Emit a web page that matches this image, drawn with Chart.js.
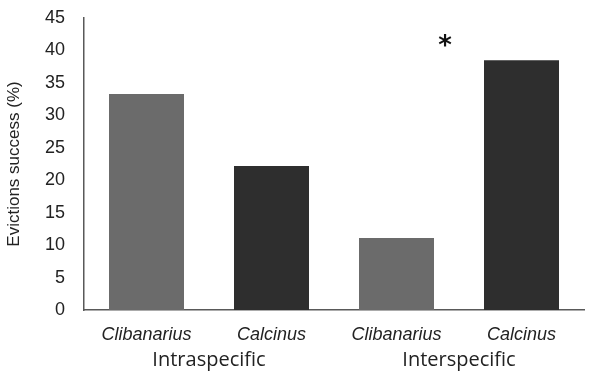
<!DOCTYPE html>
<html>
<head>
<meta charset="utf-8">
<script src="https://cdn.jsdelivr.net/npm/chart.js@4.4.0/dist/chart.umd.min.js"></script>
<style>
  html, body { margin: 0; padding: 0; background: #fff; }
  #wrap { width: 598px; height: 374px; }
</style>
</head>
<body>
<div id="wrap"><canvas id="myChart" width="598" height="374"></canvas></div>
<script>
// data block
const species = ['Clibanarius', 'Calcinus', 'Clibanarius', 'Calcinus'];
const groups = ['Intraspecific', 'Interspecific'];
const success = [33.3, 22.2, 11.1, 38.5];
const yTicks = [0, 5, 10, 15, 20, 25, 30, 35, 40, 45];

const barColors = ['#6b6b6b', '#2e2e2e', '#6b6b6b', '#2e2e2e'];

// asterisk over the interspecific pair
const starMark = {
  id: 'starMark',
  afterDraw(chart) {
    const {ctx, scales: {x, y}} = chart;
    ctx.save();
    const px = (x.getPixelForValue(2) + x.getPixelForValue(3)) / 2 - 14;
    ctx.font = 'bold 26px "DejaVu Sans"';
    ctx.fillStyle = '#111';
    ctx.textAlign = 'center';
    ctx.textBaseline = 'middle';
    ctx.fillText('*', px, y.getPixelForValue(40.5));
    ctx.restore();
  }
};

const config = {
  type: 'bar',
  data: {
    labels: species,
    datasets: [{
      data: success,
      backgroundColor: barColors,
      borderWidth: 0,
      barPercentage: 0.6,
      categoryPercentage: 1.0
    }]
  },
  options: {
    responsive: false,
    animation: false,
    layout: { padding: { top: 18, right: 14, left: 0, bottom: 0 } },
    plugins: {
      legend: { display: false },
      tooltip: { enabled: false }
    },
    scales: {
      x: {
        position: 'bottom',
        grid: { display: false, drawTicks: false },
        border: { display: true, color: '#595959', width: 1.5 },
        ticks: {
          color: '#222',
          font: { family: '"Liberation Sans", Arial', size: 18, style: 'italic' },
          padding: 14,
          maxRotation: 0
        },
        afterFit(scale) { scale.height = 36; }
      },
      x2: {
        type: 'category',
        position: 'bottom',
        labels: groups,
        offset: true,
        grid: { display: false, drawTicks: false },
        border: { display: false },
        ticks: {
          color: '#222',
          font: { family: '"Open Sans", "Noto Sans"', size: 20 },
          padding: 2
        },
        afterFit(scale) { scale.height = 28; }
      },
      y: {
        min: 0,
        max: 45,
        afterBuildTicks(scale) { scale.ticks = yTicks.map(v => ({ value: v })); },
        grid: { display: false, drawTicks: false },
        border: { display: true, color: '#595959', width: 1.5 },
        ticks: {
          color: '#222',
          font: { family: '"Liberation Sans", Arial', size: 18 },
          padding: 19
        },
        title: {
          display: true,
          text: 'Evictions success (%)',
          color: '#222',
          font: { family: '"Liberation Sans", Arial', size: 17 },
          padding: { top: 4, bottom: 0 }
        },
        afterFit(scale) {
          scale.width = 84;
          scale.paddingTop = 0;
          scale.paddingBottom = 0;
        }
      }
    }
  },
  plugins: [starMark]
};

const myChart = new Chart(document.getElementById('myChart'), config);
</script>
</body>
</html>
